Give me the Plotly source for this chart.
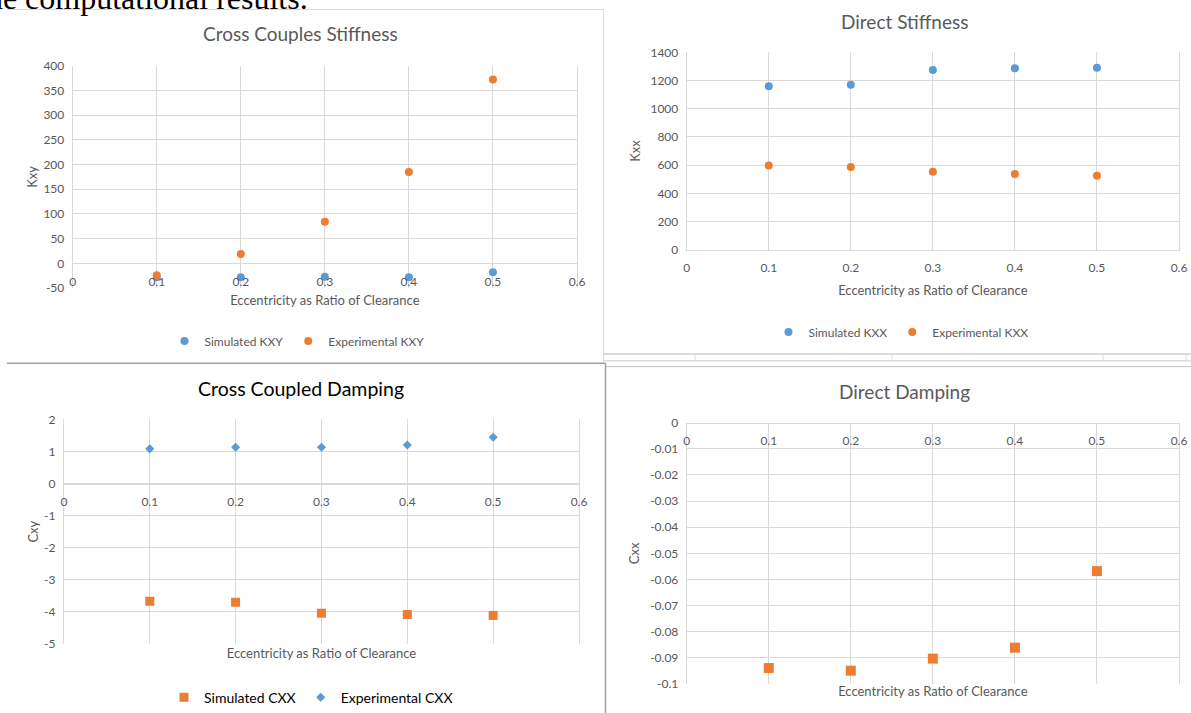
import plotly.graph_objects as go

# ---------------------------------------------------------------------------
# Bearing coefficients versus eccentricity ratio
# ---------------------------------------------------------------------------
ecc = [0.1, 0.2, 0.3, 0.4, 0.5]

# Cross-coupled stiffness
kxy_sim = [-28, -28, -27, -28, -18]
kxy_exp = [-24, 19, 84, 185, 372]

# Direct stiffness
kxx_sim = [1159, 1170, 1275, 1286, 1291]
kxx_exp = [598, 586, 553, 537, 525]

# Cross-coupled damping
cxy_sim = [-3.67, -3.70, -4.04, -4.08, -4.11]
cxy_exp = [1.08, 1.13, 1.13, 1.20, 1.44]

# Direct damping
cxx_sim = [-0.0939, -0.0949, -0.0903, -0.0861, -0.0568]

# Tick values / labels
x_ticks = [0, 0.1, 0.2, 0.3, 0.4, 0.5, 0.6]
x_ticktext = ["0", "0.1", "0.2", "0.3", "0.4", "0.5", "0.6"]
kxy_ticks = [-50, 0, 50, 100, 150, 200, 250, 300, 350, 400]
kxy_ticktext = ["-50", "0", "50", "100", "150", "200", "250", "300", "350", "400"]
kxx_ticks = [0, 200, 400, 600, 800, 1000, 1200, 1400]
kxx_ticktext = ["0", "200", "400", "600", "800", "1000", "1200", "1400"]
cxy_ticks = [-5, -4, -3, -2, -1, 0, 1, 2]
cxy_ticktext = ["-5", "-4", "-3", "-2", "-1", "0", "1", "2"]
cxx_ticks = [0, -0.01, -0.02, -0.03, -0.04, -0.05, -0.06, -0.07, -0.08, -0.09, -0.1]
cxx_ticktext = ["0", "-0.01", "-0.02", "-0.03", "-0.04", "-0.05", "-0.06",
                "-0.07", "-0.08", "-0.09", "-0.1"]

# ---------------------------------------------------------------------------
W, H = 1191, 713
BLUE = "#5B9BD5"
ORANGE = "#ED7D31"
GRID = "#D9D9D9"
TXT = "#595959"
FONT = "Lato"


def fx(px):
    return px / W


def fy(py):
    return 1 - py / H


def zero_pos(dom, rng):
    """Paper position of value 0 on a y axis with given domain and range."""
    lo, hi = rng
    return dom[0] + (0 - lo) / (hi - lo) * (dom[1] - dom[0])


fig = go.Figure()

# --- traces ---------------------------------------------------------------
fig.add_trace(go.Scatter(x=ecc, y=kxy_sim, mode="markers", name="Simulated KXY",
                         marker=dict(color=BLUE, size=8, symbol="circle"),
                         xaxis="x", yaxis="y", legend="legend"))
fig.add_trace(go.Scatter(x=ecc, y=kxy_exp, mode="markers", name="Experimental KXY",
                         marker=dict(color=ORANGE, size=8, symbol="circle"),
                         xaxis="x", yaxis="y", legend="legend"))

fig.add_trace(go.Scatter(x=ecc, y=kxx_sim, mode="markers", name="Simulated KXX",
                         marker=dict(color=BLUE, size=8, symbol="circle"),
                         xaxis="x2", yaxis="y2", legend="legend2"))
fig.add_trace(go.Scatter(x=ecc, y=kxx_exp, mode="markers", name="Experimental KXX",
                         marker=dict(color=ORANGE, size=8, symbol="circle"),
                         xaxis="x2", yaxis="y2", legend="legend2"))

fig.add_trace(go.Scatter(x=ecc, y=cxy_sim, mode="markers", name="Simulated CXX",
                         marker=dict(color=ORANGE, size=9, symbol="square"),
                         xaxis="x3", yaxis="y3", legend="legend3"))
fig.add_trace(go.Scatter(x=ecc, y=cxy_exp, mode="markers", name="Experimental CXX",
                         marker=dict(color=BLUE, size=7, symbol="diamond"),
                         xaxis="x3", yaxis="y3", legend="legend3"))

fig.add_trace(go.Scatter(x=ecc, y=cxx_sim, mode="markers", name="Simulated CXX",
                         marker=dict(color=ORANGE, size=10, symbol="square"),
                         xaxis="x4", yaxis="y4", showlegend=False))

# --- axes -----------------------------------------------------------------
tickfont = dict(family=FONT, size=12, color=TXT)
titlefont = dict(family=FONT, size=13, color=TXT)

x_common = dict(range=[0, 0.6], tickvals=x_ticks, ticktext=x_ticktext,
                showgrid=True, gridcolor=GRID, gridwidth=1, zeroline=False,
                showline=True, linecolor=GRID, linewidth=1,
                ticks="outside", ticklen=7, tickcolor="rgba(0,0,0,0)",
                tickfont=tickfont, fixedrange=True, automargin=False)
y_common = dict(showgrid=True, gridcolor=GRID, gridwidth=1, zeroline=False,
                showline=True, mirror=True, linecolor=GRID, linewidth=1,
                ticks="outside", ticklen=5,
                tickcolor="rgba(0,0,0,0)", tickfont=tickfont, fixedrange=True,
                automargin=False)

XT = "Eccentricity as Ratio of Clearance"

y1_dom = [fy(288), fy(65.7)]
y1_rng = [-50, 400]
y2_dom = [fy(249.7), fy(52.3)]
y2_rng = [0, 1400]
y3_dom = [fy(644), fy(419.3)]
y3_rng = [-5, 2]
y4_dom = [fy(684), fy(422.7)]
y4_rng = [-0.1, 0]

fig.update_layout(
    xaxis=dict(x_common, domain=[fx(72.7), fx(577)], anchor="free",
               position=zero_pos(y1_dom, y1_rng),
               title=dict(text=XT, font=titlefont, standoff=8)),
    yaxis=dict(y_common, domain=y1_dom, range=y1_rng, anchor="x",
               tickvals=kxy_ticks, ticktext=kxy_ticktext,
               title=dict(text="Kxy", font=titlefont, standoff=2)),
    xaxis2=dict(x_common, domain=[fx(686.7), fx(1179)], anchor="y2",
                title=dict(text=XT, font=titlefont, standoff=11)),
    yaxis2=dict(y_common, domain=y2_dom, range=y2_rng, anchor="x2",
                tickvals=kxx_ticks, ticktext=kxx_ticktext,
                title=dict(text="Kxx", font=titlefont, standoff=6)),
    xaxis3=dict(x_common, domain=[fx(63.9), fx(579)], anchor="free",
                position=zero_pos(y3_dom, y3_rng),
                title=dict(text=XT, font=titlefont, standoff=140)),
    yaxis3=dict(y_common, domain=y3_dom, range=y3_rng, anchor="x3",
                tickvals=cxy_ticks, ticktext=cxy_ticktext,
                title=dict(text="Cxy", font=titlefont, standoff=2)),
    xaxis4=dict(x_common, domain=[fx(686.7), fx(1179)], anchor="free",
                position=zero_pos(y4_dom, y4_rng),
                title=dict(text=XT, font=titlefont, standoff=239)),
    yaxis4=dict(y_common, domain=y4_dom, range=y4_rng, anchor="x4",
                tickvals=cxx_ticks, ticktext=cxx_ticktext,
                title=dict(text="Cxx", font=titlefont, standoff=7)),
)

# --- legends --------------------------------------------------------------
leg_common = dict(orientation="h", xanchor="center", yanchor="middle",
                  bgcolor="rgba(0,0,0,0)", itemwidth=30)
fig.update_layout(
    legend=dict(leg_common, x=fx(297), y=fy(341),
                font=dict(family=FONT, size=12, color=TXT)),
    legend2=dict(leg_common, x=fx(901), y=fy(332),
                 font=dict(family=FONT, size=12, color=TXT)),
    legend3=dict(leg_common, x=fx(311), y=fy(697.7),
                 font=dict(family=FONT, size=14, color="#000000")),
)

# --- chart titles ---------------------------------------------------------
titles = [
    ("Cross Couples Stiffness", 300, 33, TXT, 19),
    ("Direct Stiffness", 904.5, 21, TXT, 19),
    ("Cross Coupled Damping", 300.5, 388, "#000000", 19.5),
    ("Direct Damping", 904, 391.5, TXT, 19),
]
annotations = []
for text, cx, cy, col, fs in titles:
    annotations.append(dict(text=text, x=fx(cx), y=fy(cy), xref="paper", yref="paper",
                            xanchor="center", yanchor="middle", showarrow=False,
                            font=dict(family=FONT, size=fs, color=col)))

# document text line above the charts (partly cut off at the top)
annotations.append(dict(text="the computational results.", x=fx(310), y=fy(-2),
                        xref="paper", yref="paper", xanchor="right", yanchor="middle",
                        showarrow=False,
                        font=dict(family="Liberation Serif", size=32, color="#000000")))

# --- frame / table rules of the surrounding page -------------------------
LIGHT = "#DADADA"
DARK = "#A0A0A0"
MID = "#C0C0C0"


def hline(y, x0, x1, color, w=1):
    return dict(type="line", xref="paper", yref="paper", x0=fx(x0), x1=fx(x1),
                y0=fy(y), y1=fy(y), line=dict(color=color, width=w), layer="below")


def vline(x, y0, y1, color, w=1):
    return dict(type="line", xref="paper", yref="paper", x0=fx(x), x1=fx(x),
                y0=fy(y0), y1=fy(y1), line=dict(color=color, width=w), layer="below")


shapes = [
    hline(9.5, 7, 603.5, LIGHT),
    vline(603.5, 9.5, 362, LIGHT),
    hline(354, 604, W, LIGHT, 2),
    hline(360.7, 604, W, LIGHT, 1.5),
    vline(695, 354, 361, LIGHT),
    vline(892, 354, 361, LIGHT),
    vline(1103, 354, 361, LIGHT),
    vline(1186, 354, 361, LIGHT),
    hline(363.3, 7, 605.5, DARK, 1.5),
    vline(605.5, 363.3, H, DARK, 1.5),
    hline(366.7, 606, W, MID),
]

fig.update_layout(
    width=W, height=H, autosize=False,
    margin=dict(l=0, r=0, t=0, b=0, pad=0, autoexpand=False),
    paper_bgcolor="white", plot_bgcolor="white",
    font=dict(family=FONT, color=TXT),
    annotations=annotations, shapes=shapes,
)

fig.write_html("out.html", config={"displayModeBar": False},
               post_script="document.body.style.margin='0';")
